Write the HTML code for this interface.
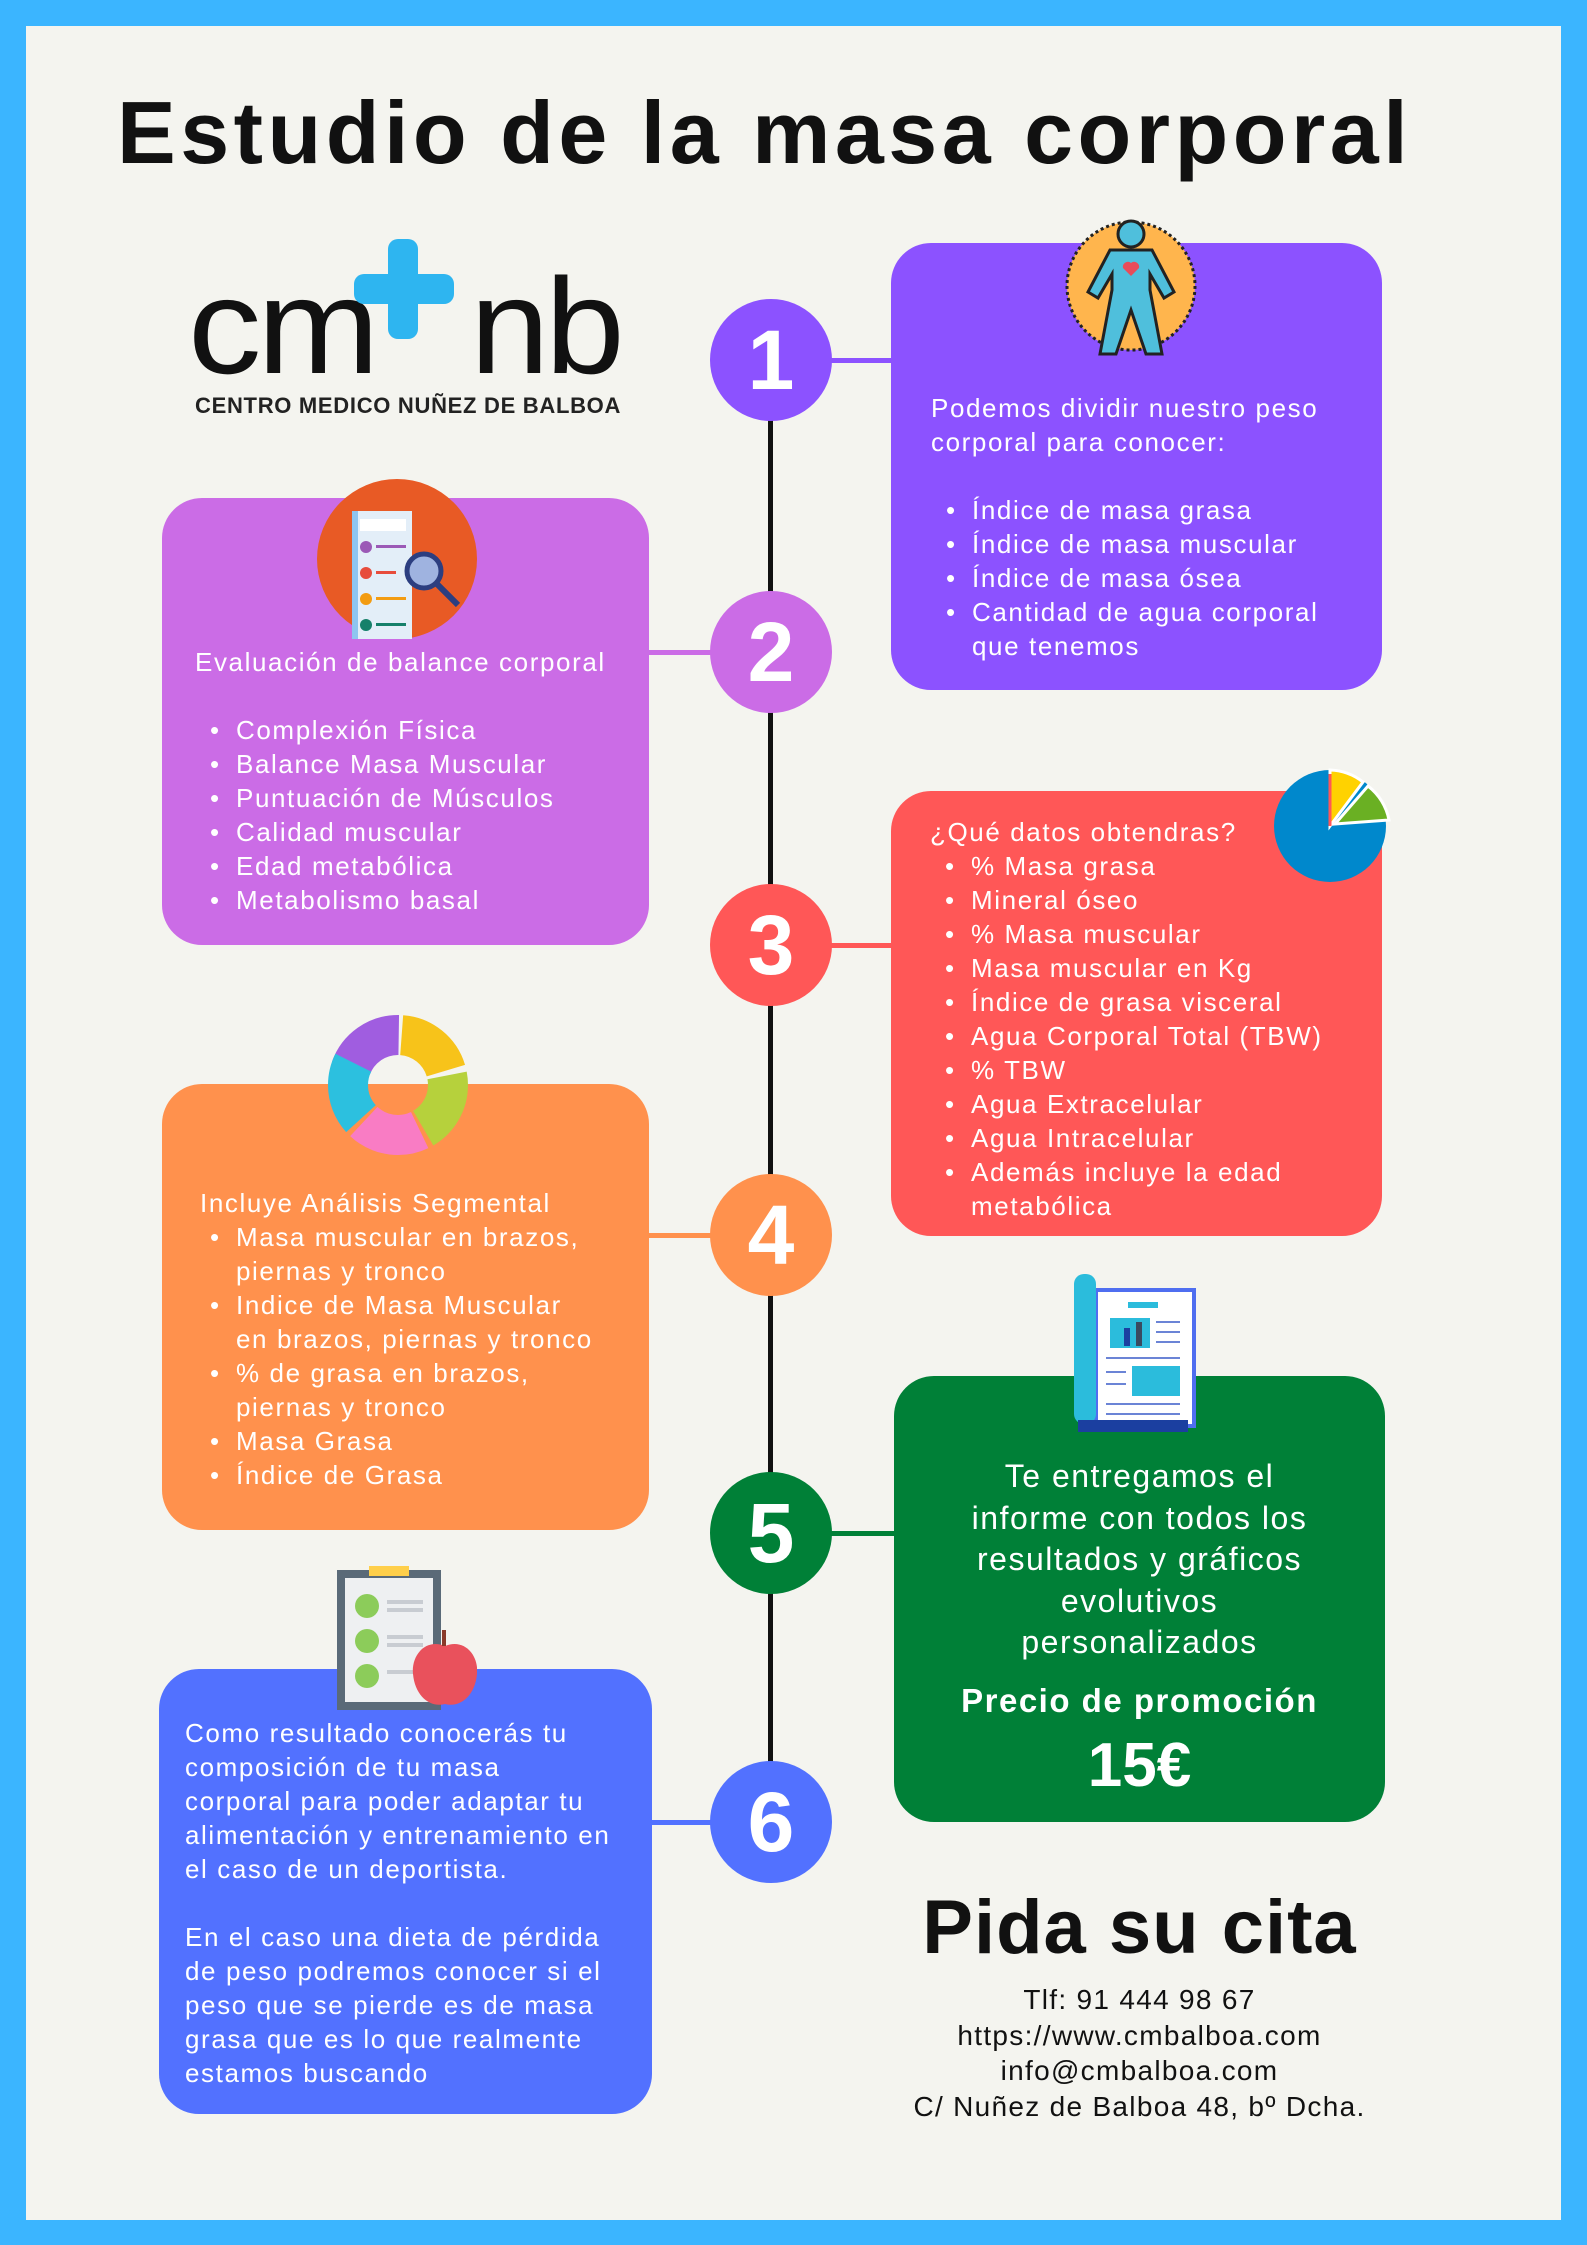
<!DOCTYPE html>
<html><head><meta charset="utf-8"><style>
*{margin:0;padding:0;box-sizing:border-box}
body{width:1587px;height:2245px;background:#3bb5ff;position:relative;overflow:hidden;font-family:"Liberation Sans",sans-serif}
#inner{position:absolute;left:26px;top:26px;width:1535px;height:2194px;background:#f4f4ef}
.a{position:absolute}
.box{position:absolute;border-radius:40px}
.t{position:absolute;color:#fff;font-size:26px;letter-spacing:1.6px;line-height:34px;white-space:nowrap}
.t .b{padding-left:41px;position:relative}
.t .b:before{content:"•";position:absolute;left:15px}
.t .b4{padding-left:36px}
.t .b4:before{left:10px}
.c{position:absolute;width:122px;height:122px;border-radius:50%;color:#fff;font-weight:bold;font-size:84px;text-align:center;line-height:122px}
.h{position:absolute;height:5px}
</style></head><body>
<div id="inner"></div>
<div class="a" style="left:117px;top:82px;font-size:88px;font-weight:bold;color:#111;letter-spacing:4.5px;white-space:nowrap">Estudio de la masa corporal</div>

<!-- logo -->
<div class="a" style="left:188px;top:258px;font-size:136px;color:#111;line-height:1;letter-spacing:-4px;transform:scaleX(1.08);transform-origin:left">cm</div>
<div class="a" style="left:470px;top:258px;font-size:136px;color:#111;line-height:1;letter-spacing:-4px;transform:scaleX(1.05);transform-origin:left">nb</div>
<div class="a" style="left:388px;top:239px;width:30px;height:100px;background:#2eb5f0;border-radius:10px"></div>
<div class="a" style="left:354px;top:274px;width:100px;height:30px;background:#2eb5f0;border-radius:10px"></div>
<div class="a" style="left:195px;top:393px;font-size:22px;font-weight:bold;color:#222;letter-spacing:0.7px;white-space:nowrap">CENTRO MEDICO NUÑEZ DE BALBOA</div>

<!-- timeline -->
<div class="a" style="left:768px;top:358px;width:5px;height:1468px;background:#111"></div>
<div class="h" style="left:800px;top:358px;width:95px;background:#8c52ff"></div>
<div class="h" style="left:645px;top:650px;width:95px;background:#cb6ce6"></div>
<div class="h" style="left:800px;top:943px;width:95px;background:#ff5757"></div>
<div class="h" style="left:645px;top:1233px;width:95px;background:#ff914d"></div>
<div class="h" style="left:800px;top:1531px;width:95px;background:#008037"></div>
<div class="h" style="left:645px;top:1820px;width:95px;background:#5271ff"></div>

<div class="box" style="left:891px;top:243px;width:491px;height:447px;background:#8c52ff"></div>
<div class="box" style="left:162px;top:498px;width:487px;height:447px;background:#cb6ce6"></div>
<div class="box" style="left:891px;top:791px;width:491px;height:445px;background:#ff5757"></div>
<div class="box" style="left:162px;top:1084px;width:487px;height:446px;background:#ff914d"></div>
<div class="box" style="left:894px;top:1376px;width:491px;height:446px;background:#008037"></div>
<div class="box" style="left:159px;top:1669px;width:493px;height:445px;background:#5271ff"></div>

<div class="c" style="left:710px;top:299px;background:#8c52ff">1</div>
<div class="c" style="left:710px;top:591px;background:#cb6ce6">2</div>
<div class="c" style="left:710px;top:884px;background:#ff5757">3</div>
<div class="c" style="left:710px;top:1174px;background:#ff914d">4</div>
<div class="c" style="left:710px;top:1472px;background:#008037">5</div>
<div class="c" style="left:710px;top:1761px;background:#5271ff">6</div>

<!-- icons -->
<svg class="a" style="left:1062px;top:214px" width="140" height="144" viewBox="0 0 140 144">
<circle cx="69" cy="72" r="64" fill="#ffb54d" stroke="#222" stroke-width="3" stroke-dasharray="3 3"/>
<circle cx="69" cy="20" r="13" fill="#4fbfdc" stroke="#222" stroke-width="3"/>
<path d="M48 36 H90 L112 78 L102 84 L88 60 V76 L100 140 H84 L69 96 L54 140 H38 L50 76 V60 L36 84 L26 78 Z" fill="#4fbfdc" stroke="#222" stroke-width="3"/>
<path d="M69 62 l-8 -8 a5 5 0 0 1 8 -5 a5 5 0 0 1 8 5 z" fill="#e84c5a"/>
</svg>
<svg class="a" style="left:316px;top:479px" width="162" height="160" viewBox="0 0 162 160">
<circle cx="81" cy="80" r="80" fill="#e85a25"/>
<rect x="36" y="32" width="60" height="128" fill="#e3eef8"/>
<rect x="36" y="32" width="6" height="128" fill="#8ec5f0"/>
<rect x="44" y="40" width="46" height="12" fill="#fff"/>
<circle cx="50" cy="68" r="6" fill="#9b59b6"/><rect x="60" y="66" width="30" height="3" fill="#9b59b6"/>
<circle cx="50" cy="94" r="6" fill="#e74c3c"/><rect x="60" y="92" width="20" height="3" fill="#e74c3c"/>
<circle cx="50" cy="120" r="6" fill="#f39c12"/><rect x="60" y="118" width="30" height="3" fill="#f39c12"/>
<circle cx="50" cy="146" r="6" fill="#16806a"/><rect x="60" y="144" width="30" height="3" fill="#16806a"/>
<circle cx="108" cy="92" r="17" fill="#9fb3e0" stroke="#2c3e80" stroke-width="5"/>
<line x1="120" y1="104" x2="142" y2="126" stroke="#2c3e80" stroke-width="6"/>
</svg>
<svg class="a" style="left:1273px;top:764px" width="120" height="120" viewBox="0 0 120 120">
<circle cx="57" cy="62" r="56" fill="#0088cc"/>
<path d="M57 62 V6 A56 56 0 0 1 90 18 Z" fill="#ffd200" stroke="#fff" stroke-width="3"/>
<path d="M62 60 L95 22 A56 56 0 0 1 116 56 Z" fill="#6ab023" stroke="#fff" stroke-width="3"/>
<path d="M57 62 L57 10" stroke="#ff5757" stroke-width="3"/>
</svg>
<svg class="a" style="left:327px;top:1014px" width="142" height="142" viewBox="0 0 142 142">
<circle cx="71" cy="71" r="50" fill="none" stroke="#a05de0" stroke-width="40" stroke-dasharray="62 252" stroke-dashoffset="140"/>
<circle cx="71" cy="71" r="50" fill="none" stroke="#f7c31a" stroke-width="40" stroke-dasharray="60 254" stroke-dashoffset="75"/>
<circle cx="71" cy="71" r="50" fill="none" stroke="#b6d13c" stroke-width="40" stroke-dasharray="62 252" stroke-dashoffset="10"/>
<circle cx="71" cy="71" r="50" fill="none" stroke="#f97cc4" stroke-width="40" stroke-dasharray="60 254" stroke-dashoffset="-56"/>
<circle cx="71" cy="71" r="50" fill="none" stroke="#2cc0df" stroke-width="40" stroke-dasharray="60 254" stroke-dashoffset="-120"/>
</svg>
<svg class="a" style="left:1072px;top:1274px" width="128" height="160" viewBox="0 0 128 160">
<rect x="20" y="14" width="104" height="140" fill="#4f6ef0"/>
<rect x="26" y="18" width="94" height="132" fill="#fff"/>
<rect x="2" y="0" width="22" height="150" rx="10" fill="#2bbcdc"/>
<rect x="56" y="28" width="30" height="6" fill="#2bbcdc"/>
<rect x="38" y="44" width="40" height="30" fill="#2bbcdc"/>
<rect x="52" y="54" width="6" height="18" fill="#1b3fa0"/><rect x="64" y="48" width="6" height="24" fill="#3a4a60"/>
<rect x="60" y="92" width="48" height="30" fill="#2bbcdc"/>
<g stroke="#6b84d6" stroke-width="2"><line x1="84" y1="48" x2="108" y2="48"/><line x1="84" y1="58" x2="108" y2="58"/><line x1="84" y1="68" x2="108" y2="68"/><line x1="34" y1="84" x2="108" y2="84"/><line x1="34" y1="98" x2="54" y2="98"/><line x1="34" y1="110" x2="54" y2="110"/><line x1="34" y1="130" x2="108" y2="130"/><line x1="34" y1="140" x2="108" y2="140"/></g>
<rect x="6" y="146" width="110" height="12" fill="#1b3fa0"/>
</svg>
<svg class="a" style="left:335px;top:1566px" width="142" height="145" viewBox="0 0 142 145">
<rect x="2" y="4" width="104" height="140" fill="#5a6a78"/>
<rect x="10" y="12" width="88" height="124" fill="#eef0f2"/>
<rect x="34" y="0" width="40" height="10" fill="#ffcf4a"/>
<circle cx="32" cy="40" r="12" fill="#8ccc5a"/><circle cx="32" cy="75" r="12" fill="#8ccc5a"/><circle cx="32" cy="110" r="12" fill="#8ccc5a"/>
<g fill="#c8ccd2"><rect x="52" y="34" width="36" height="4"/><rect x="52" y="42" width="36" height="4"/><rect x="52" y="69" width="36" height="4"/><rect x="52" y="77" width="36" height="4"/><rect x="52" y="104" width="36" height="4"/></g>
<path d="M110 80 C90 72 76 90 78 108 C80 130 95 142 110 138 C125 142 140 130 142 108 C144 90 130 72 110 80Z" fill="#e9515c"/>
<rect x="107" y="64" width="4" height="16" fill="#8a3a2a"/>
</svg>

<!-- texts -->
<div class="t" style="left:931px;top:391px">Podemos dividir nuestro peso<br>corporal para conocer:<br><br>
<div class="b">Índice de masa grasa</div><div class="b">Índice de masa muscular</div><div class="b">Índice de masa ósea</div><div class="b">Cantidad de agua corporal<br>que tenemos</div></div>

<div class="t" style="left:195px;top:645px">Evaluación de balance corporal<br><br>
<div class="b">Complexión Física</div><div class="b">Balance Masa Muscular</div><div class="b">Puntuación de Músculos</div><div class="b">Calidad muscular</div><div class="b">Edad metabólica</div><div class="b">Metabolismo basal</div></div>

<div class="t" style="left:930px;top:815px">¿Qué datos obtendras?
<div class="b">% Masa grasa</div><div class="b">Mineral óseo</div><div class="b">% Masa muscular</div><div class="b">Masa muscular en Kg</div><div class="b">Índice de grasa visceral</div><div class="b">Agua Corporal Total (TBW)</div><div class="b">% TBW</div><div class="b">Agua Extracelular</div><div class="b">Agua Intracelular</div><div class="b">Además incluye la edad<br>metabólica</div></div>

<div class="t" style="left:200px;top:1186px">Incluye Análisis Segmental
<div class="b b4">Masa muscular en brazos,<br>piernas y tronco</div><div class="b b4">Indice de Masa Muscular<br>en brazos, piernas y tronco</div><div class="b b4">% de grasa en brazos,<br>piernas y tronco</div><div class="b b4">Masa Grasa</div><div class="b b4">Índice de Grasa</div></div>

<div class="t" style="left:894px;width:491px;top:1456px;text-align:center;font-size:32px;letter-spacing:1.5px;line-height:41.5px">Te entregamos el<br>informe con todos los<br>resultados y gráficos<br>evolutivos<br>personalizados</div>
<div class="t" style="left:894px;width:491px;top:1684px;text-align:center;font-size:33px;font-weight:bold;letter-spacing:1.5px">Precio de promoción</div>
<div class="t" style="left:894px;width:491px;top:1734px;text-align:center;font-size:62px;font-weight:bold;line-height:64px;letter-spacing:0">15€</div>

<div class="t" style="left:185px;top:1716px">Como resultado conocerás tu<br>composición de tu masa<br>corporal para poder adaptar tu<br>alimentación y entrenamiento en<br>el caso de un deportista.<br><br>En el caso una dieta de pérdida<br>de peso podremos conocer si el<br>peso que se pierde es de masa<br>grasa que es lo que realmente<br>estamos buscando</div>

<div class="a" style="left:844px;width:591px;top:1886px;text-align:center;font-size:76px;font-weight:bold;color:#111;line-height:84px;letter-spacing:1px">Pida su cita</div>
<div class="a" style="left:844px;width:591px;top:1982px;text-align:center;font-size:28px;color:#111;line-height:35.7px;letter-spacing:1.3px;white-space:nowrap">Tlf: 91 444 98 67<br>https://www.cmbalboa.com<br>info@cmbalboa.com<br>C/ Nuñez de Balboa 48, bº Dcha.</div>
</body></html>
